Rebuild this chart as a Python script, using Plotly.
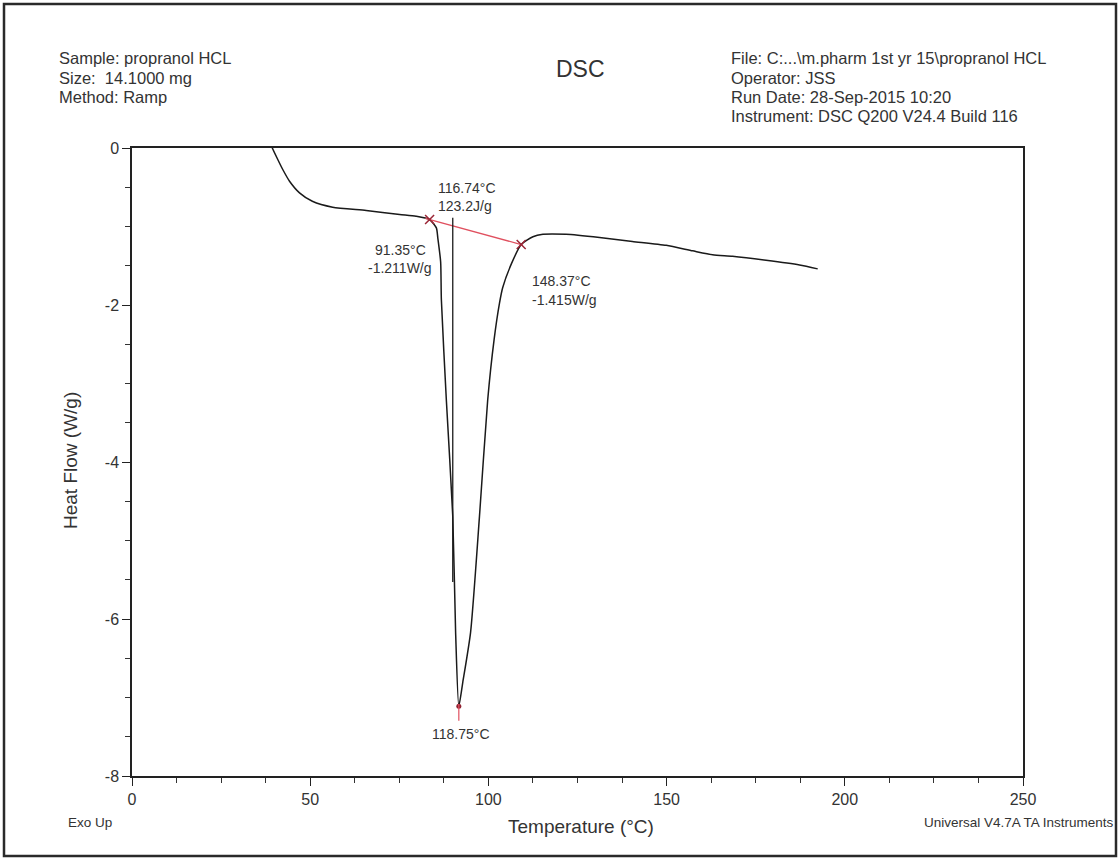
import plotly.graph_objects as go

# ---------------- data ----------------
temperature = [39.0, 39.37, 40.9, 42.3, 44.2, 47.0, 50.6, 56.3, 65.7, 75.1, 79.7,
               83.5, 85.4, 85.8, 86.6, 86.8, 88.2, 90.0, 90.8, 91.7,
               92.8, 95.0, 97.5, 99.8, 101.6, 103.1, 104.0, 106.5, 109.2,
               112.5, 115.3, 121.8, 131.2, 140.4, 149.9, 157.3, 162.9, 168.5,
               177.9, 187.3, 192.4]
heat_flow = [0.05, 0.0, -0.146, -0.274, -0.423, -0.571, -0.678, -0.754, -0.796, -0.847, -0.869,
             -0.911, -1.017, -1.144, -1.45, -1.93, -3.21, -4.69, -6.17, -7.11,
             -6.81, -6.17, -4.69, -3.21, -2.44, -1.98, -1.78, -1.47, -1.23,
             -1.13, -1.10, -1.10, -1.14, -1.19, -1.24, -1.31, -1.36, -1.38,
             -1.43, -1.49, -1.54]

baseline_x = [82.3, 109.7]
baseline_y = [-0.896, -1.236]

onset_x = [83.5, 109.2]
onset_y = [-0.911, -1.23]

divider_x = [90.0, 90.0]
divider_y = [-0.89, -5.53]

peak_x = [91.7]
peak_y = [-7.11]

x_ticks = [0, 50, 100, 150, 200, 250]
y_ticks = [0, -2, -4, -6, -8]

header_left = ["Sample: propranol HCL", "Size:  14.1000 mg", "Method: Ramp"]
header_right = ["File: C:...\\m.pharm 1st yr 15\\propranol HCL", "Operator: JSS",
                "Run Date: 28-Sep-2015 10:20", "Instrument: DSC Q200 V24.4 Build 116"]

label_area = ["116.74°C", "123.2J/g"]
label_onset = ["91.35°C", "-1.211W/g"]
label_end = ["148.37°C", "-1.415W/g"]
label_peak = "118.75°C"

# ---------------- layout helpers ----------------
W, H = 1120, 859
L, R, T, B = 132, 97, 148, 83
PW, PH = W - L - R, H - T - B


def px_x(p):
    return (p - L) / PW


def px_y(p):
    return (H - B - p) / PH


FONT = "Liberation Sans, Arial, sans-serif"
TXT = "#333333"

fig = go.Figure()

fig.add_trace(go.Scatter(x=temperature, y=heat_flow, mode="lines",
                         line=dict(color="#1a1a1a", width=1.5, shape="spline", smoothing=0.6),
                         hoverinfo="skip"))
fig.add_trace(go.Scatter(x=baseline_x, y=baseline_y, mode="lines",
                         line=dict(color="#e0505f", width=1.3), hoverinfo="skip"))
fig.add_trace(go.Scatter(x=divider_x, y=divider_y, mode="lines",
                         line=dict(color="#1a1a1a", width=1.3), hoverinfo="skip"))
fig.add_trace(go.Scatter(x=onset_x, y=onset_y, mode="markers",
                         marker=dict(symbol="x-thin", size=9,
                                     line=dict(width=1.5, color="#9a2535")),
                         hoverinfo="skip"))
fig.add_trace(go.Scatter(x=peak_x, y=peak_y, mode="markers",
                         marker=dict(symbol="circle", size=5, color="#902030"),
                         hoverinfo="skip"))
fig.add_trace(go.Scatter(x=peak_x, y=[peak_y[0] - 0.08], mode="markers",
                         marker=dict(symbol="line-ns", size=12,
                                     line=dict(width=1.2, color="#e0505f")),
                         hoverinfo="skip"))

annotations = []
# header blocks
for i, t in enumerate(header_left):
    annotations.append(dict(x=px_x(57), y=px_y(58 + 19.5 * i), xref="paper", yref="paper",
                            text=t, showarrow=False, xanchor="left", yanchor="middle",
                            font=dict(family=FONT, size=16.5, color=TXT)))
for i, t in enumerate(header_right):
    annotations.append(dict(x=px_x(729), y=px_y(58 + 19.5 * i), xref="paper", yref="paper",
                            text=t, showarrow=False, xanchor="left", yanchor="middle",
                            font=dict(family=FONT, size=16.5, color=TXT)))
annotations.append(dict(x=px_x(580), y=px_y(69), xref="paper", yref="paper",
                        text="DSC", showarrow=False, xanchor="center", yanchor="middle",
                        font=dict(family=FONT, size=23, color=TXT)))
# axis titles and footer
annotations.append(dict(x=px_x(581), y=px_y(826), xref="paper", yref="paper",
                        text="Temperature (°C)", showarrow=False, xanchor="center",
                        yanchor="middle", font=dict(family=FONT, size=19, color=TXT)))
annotations.append(dict(x=px_x(71), y=px_y(461), xref="paper", yref="paper",
                        text="Heat Flow (W/g)", showarrow=False, textangle=-90,
                        xanchor="center", yanchor="middle",
                        font=dict(family=FONT, size=19, color=TXT)))
annotations.append(dict(x=px_x(66), y=px_y(822), xref="paper", yref="paper",
                        text="Exo Up", showarrow=False, xanchor="left", yanchor="middle",
                        font=dict(family=FONT, size=13.5, color=TXT)))
annotations.append(dict(x=px_x(1116), y=px_y(822), xref="paper", yref="paper",
                        text="Universal V4.7A TA Instruments", showarrow=False,
                        xanchor="right", yanchor="middle",
                        font=dict(family=FONT, size=13.5, color=TXT)))
# peak analysis labels (data coordinates)
for i, t in enumerate(label_area):
    annotations.append(dict(x=85.2, y=[-0.507, -0.741][i], text=t, showarrow=False,
                            xanchor="left", yanchor="middle",
                            font=dict(family=FONT, size=14, color=TXT)))
for i, t in enumerate(label_onset):
    annotations.append(dict(x=75.3, y=[-1.293, -1.526][i], text=t, showarrow=False,
                            xanchor="center", yanchor="middle",
                            font=dict(family=FONT, size=14, color=TXT)))
for i, t in enumerate(label_end):
    annotations.append(dict(x=111.8, y=[-1.697, -1.93][i], text=t, showarrow=False,
                            xanchor="left", yanchor="middle",
                            font=dict(family=FONT, size=14, color=TXT)))
annotations.append(dict(x=92.2, y=-7.46, text=label_peak, showarrow=False,
                        xanchor="center", yanchor="middle",
                        font=dict(family=FONT, size=14, color=TXT)))

shapes = [dict(type="rect", xref="paper", yref="paper",
               x0=px_x(4), x1=px_x(1116), y0=px_y(856), y1=px_y(4),
               line=dict(color="#2a2a2a", width=2.5), fillcolor="rgba(0,0,0,0)",
               layer="above")]

axis_common = dict(showgrid=False, zeroline=False, showline=True, mirror=True,
                   linecolor="#222222", linewidth=1.5, ticks="outside", ticklen=8,
                   tickwidth=1.2, tickcolor="#222222",
                   tickfont=dict(family=FONT, size=16, color=TXT))

fig.update_layout(
    width=W, height=H,
    margin=dict(l=L, r=R, t=T, b=B, pad=0),
    paper_bgcolor="white", plot_bgcolor="white",
    showlegend=False,
    xaxis=dict(range=[0, 250], tickvals=x_ticks, ticktext=[str(v) for v in x_ticks],
               minor=dict(dtick=12.5, ticks="outside", ticklen=5, tickwidth=1.1,
                          tickcolor="#333333", showgrid=False),
               **axis_common),
    yaxis=dict(range=[-8, 0], tickvals=y_ticks, ticktext=[str(v) for v in y_ticks],
               minor=dict(dtick=0.5, ticks="outside", ticklen=5, tickwidth=1.1,
                          tickcolor="#333333", showgrid=False),
               **axis_common),
    annotations=annotations,
    shapes=shapes,
)

fig.write_html("out.html", config={"displayModeBar": False},
               post_script="document.body.style.margin='0px';")
